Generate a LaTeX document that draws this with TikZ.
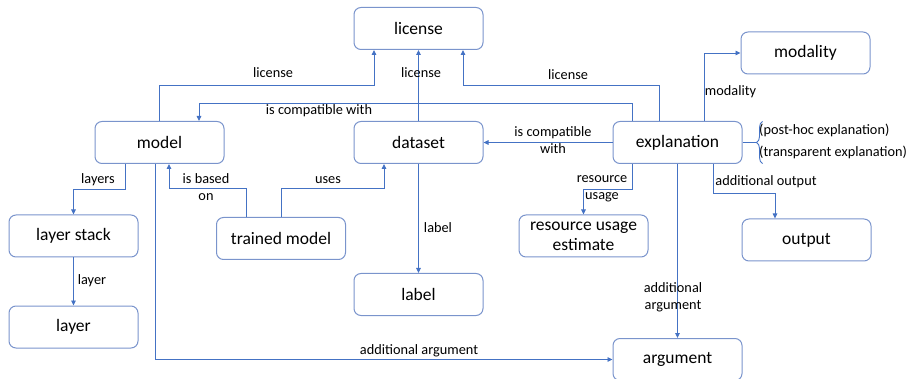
\documentclass[tikz,border=0pt]{standalone}
\usepackage{fontspec}
\setmainfont{Carlito}
\usepackage{tikz}
\usetikzlibrary{positioning,chains,arrows.meta,decorations.pathreplacing}
\definecolor{myblue}{RGB}{68,114,196}
\definecolor{myframe}{RGB}{122,148,204}

\begin{document}
\begin{tikzpicture}[x=1pt,y=-1pt,
  cnode/.style={draw=myframe,line width=1pt,rounded corners=7pt,inner sep=2pt,
    minimum width=129pt,minimum height=42pt,align=center,
    font=\fontsize{17.5}{20}\selectfont},
  lbl/.style={font=\fontsize{14.3}{17}\selectfont,inner sep=0pt,anchor=base,align=center},
  arr/.style={myblue,line width=0.9pt,-{Triangle[length=5pt,width=4.5pt]}}
]
\useasboundingbox (0,0) rectangle (907,379);

% the main row
\begin{scope}[start chain=going right,node distance=129pt]
  \node[cnode,on chain] at (159.5,142.5) (model) {model};
  \node[cnode,on chain] (dataset) {dataset};
  \node[cnode,on chain] (explanation) {explanation};
\end{scope}

% the other concepts
\node[cnode,above=71pt of dataset] (license) {license};
\node[cnode,below=109pt of dataset] (label) {label};
\node[cnode,below=174pt of explanation] (argument) {argument};
\node[cnode] at (805.5,53) (modality) {modality};
\node[cnode] at (806.5,240) (output) {output};
\node[cnode] at (583.5,236) (resource) {resource usage\\estimate};
\node[cnode] at (281,238.5) (trained) {trained model};
\node[cnode] at (73.5,236) (layerstack) {layer stack};
\node[cnode,below=48pt of layerstack] (layer) {layer};

% the edges
\draw[arr] (model.north) -- ++(0,36pt) -| ([xshift=-44.5pt]license.south);
\draw[arr] (dataset) -- (license);
\draw[arr] ([xshift=-18.5pt]explanation.north) -- ++(0,36pt) -| ([xshift=44.5pt]license.south);
\draw[arr] ([xshift=-45.5pt]explanation.north) -- ++(0,18pt) -| ([xshift=39.5pt]model.north);
\draw[arr] (explanation) -- (dataset);
\draw[arr] ([xshift=26.5pt]explanation.north) |- (modality);
\draw[arr] ([xshift=-45.5pt]explanation.south) -- ++(0,-25pt) -| (resource.north);
\draw[arr] (explanation) -- (argument);
\draw[arr] ([xshift=35.5pt]explanation.south) -- ++(0,-29pt) -| ([xshift=-31.5pt]output.north);
\draw[arr] ([xshift=-34.5pt]model.south) -- ++(0,-25pt) -| (layerstack.north);
\draw[arr] (layerstack) -- (layer);
\draw[arr] ([xshift=-35pt]trained.north) -- ++(0,29pt) -| ([xshift=9.5pt]model.south);
\draw[arr] (trained.north) -- ++(0,29pt) -| ([xshift=-34.5pt]dataset.south);
\draw[arr] (dataset) -- (label);
\draw[arr] ([xshift=-4.5pt]model.south) |- (argument);

% the kinds of explanation
\draw[myblue,line width=0.9pt] (explanation.east) -- ++(13pt,0) coordinate (tip);
\draw[myblue,line width=0.9pt,decorate,decoration={brace,amplitude=6pt}]
  ([xshift=7pt,yshift=-21pt]tip) -- ([xshift=7pt,yshift=21pt]tip);
\node[lbl,anchor=base west] at (759,135) (posthoc) {(post-hoc explanation)};
\node[lbl,anchor=base west] at (759,157) (transp) {(transparent explanation)};

% the edge labels (two-line ones sit on their last line)
\node[lbl] at (273,78) (lmodlic) {license};
\node[lbl] at (421,78) (ldatlic) {license};
\node[lbl] at (568,80) (lexplic) {license};
\node[lbl] at (319,115) (lexpmod) {is compatible with};
\node[lbl] at (553,154) (lexpdat) {is compatible\\with};
\node[lbl] at (730.5,96) (lexpmdl) {modality};
\node[lbl] at (602,200) (lexpres) {resource\\usage};
\node[lbl] at (766,186) (lexpout) {additional output};
\node[lbl] at (673,309) (lexparg) {additional\\argument};
\node[lbl] at (419,354) (lmodarg) {additional argument};
\node[lbl] at (98,184) (lmodlay) {layers};
\node[lbl] at (92,284) (lstklay) {layer};
\node[lbl] at (206,201) (ltrnmod) {is based\\on};
\node[lbl] at (328,184) (ltrndat) {uses};
\node[lbl] at (438,233) (ldatlab) {label};
\end{tikzpicture}
\end{document}
